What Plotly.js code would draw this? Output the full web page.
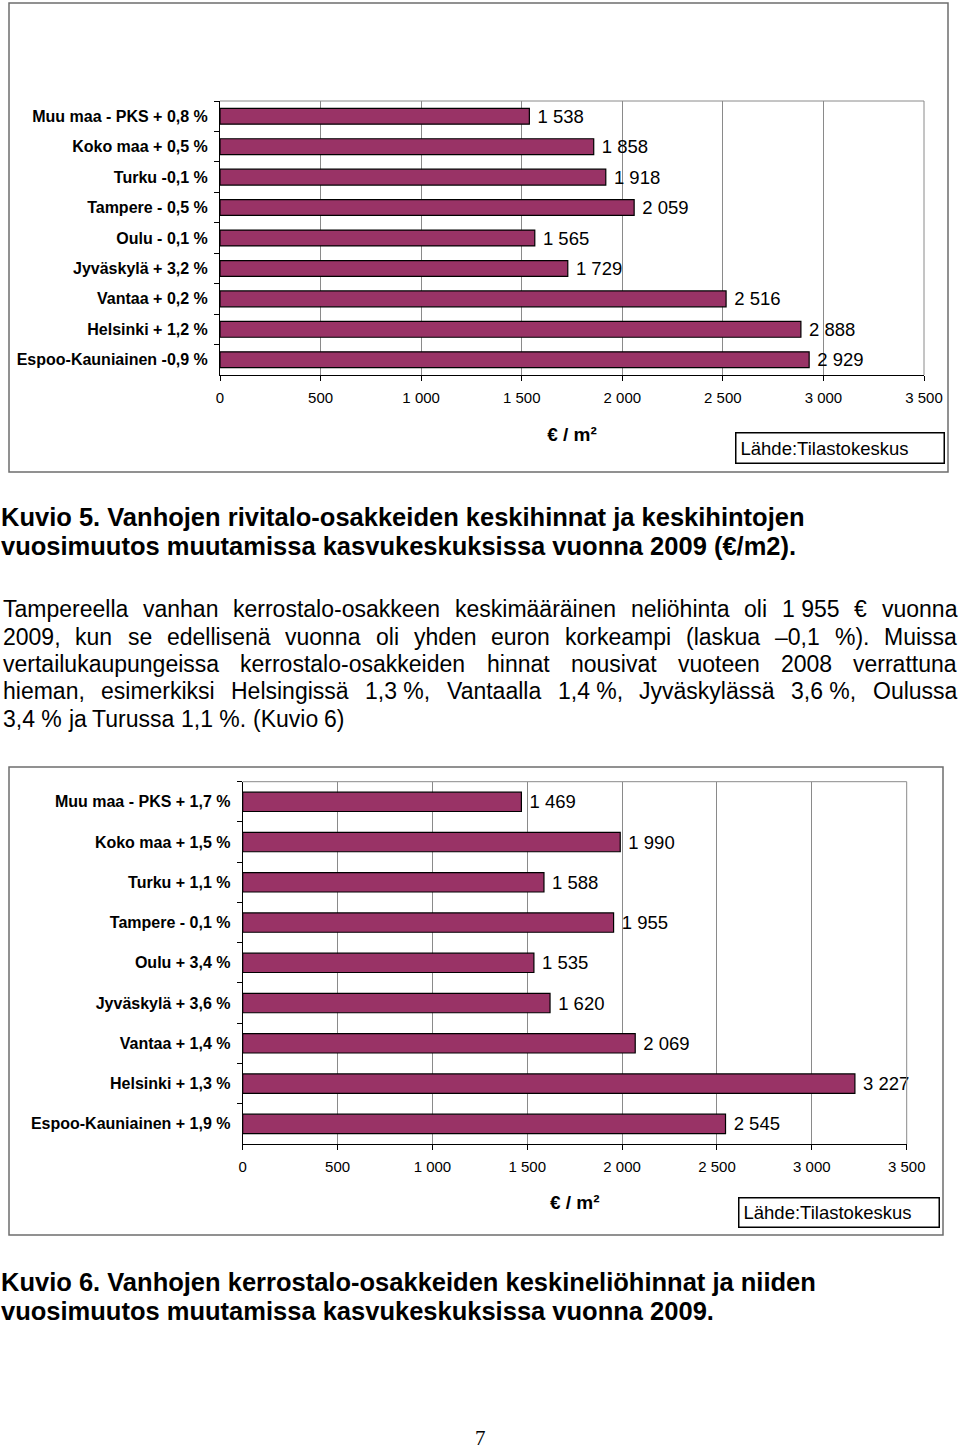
<!DOCTYPE html>
<html>
<head>
<meta charset="utf-8">
<script src="https://cdn.plot.ly/plotly-3.0.1.min.js"></script>
<style>
  html, body { margin: 0; padding: 0; background: #fff; }
  #page { width: 960px; height: 1451px; }
</style>
</head>
<body>
<div id="page"></div>
<script>
// ---------- DATA ----------
const categories1 = ['Muu maa - PKS + 0,8 %', 'Koko maa + 0,5 %', 'Turku -0,1 %', 'Tampere - 0,5 %', 'Oulu - 0,1 %',
  'Jyväskylä + 3,2 %', 'Vantaa + 0,2 %', 'Helsinki + 1,2 %', 'Espoo-Kauniainen -0,9 %'];
const values1 = [1538, 1858, 1918, 2059, 1565, 1729, 2516, 2888, 2929];

const categories2 = ['Muu maa - PKS + 1,7 %', 'Koko maa + 1,5 %', 'Turku + 1,1 %', 'Tampere - 0,1 %', 'Oulu + 3,4 %',
  'Jyväskylä + 3,6 %', 'Vantaa + 1,4 %', 'Helsinki + 1,3 %', 'Espoo-Kauniainen + 1,9 %'];
const values2 = [1469, 1990, 1588, 1955, 1535, 1620, 2069, 3227, 2545];

const xTickValues = [0, 500, 1000, 1500, 2000, 2500, 3000, 3500];
const xTickLabels = ['0', '500', '1 000', '1 500', '2 000', '2 500', '3 000', '3 500'];

const axisTitle = '€ / m²';
const sourceText = 'Lähde:Tilastokeskus';

const caption5 = ['Kuvio 5. Vanhojen rivitalo-osakkeiden keskihinnat ja keskihintojen',
  'vuosimuutos muutamissa kasvukeskuksissa vuonna 2009 (€/m2).'];
const caption6 = ['Kuvio 6. Vanhojen kerrostalo-osakkeiden keskineliöhinnat ja niiden',
  'vuosimuutos muutamissa kasvukeskuksissa vuonna 2009.'];
const bodyLines = [
  'Tampereella vanhan kerrostalo-osakkeen keskimääräinen neliöhinta oli 1\u00a0955 € vuonna',
  '2009, kun se edellisenä vuonna oli yhden euron korkeampi (laskua –0,1 %). Muissa',
  'vertailukaupungeissa kerrostalo-osakkeiden hinnat nousivat vuoteen 2008 verrattuna',
  'hieman, esimerkiksi Helsingissä 1,3\u00a0%, Vantaalla 1,4\u00a0%, Jyväskylässä 3,6\u00a0%, Oulussa',
  '3,4\u00a0% ja Turussa 1,1\u00a0%. (Kuvio 6)'
];
const pageNumber = '7';

// ---------- HELPERS ----------
const W = 960, H = 1451;
const px = x => x / W;
const py = y => 1 - y / H;
const fmt = v => String(v).replace(/\B(?=(\d{3})+(?!\d))/g, ' ');
const SANS = 'Liberation Sans, Arial, sans-serif';
const BAR = '#993366';
const GRID = '#8a8a8a';

function barTrace(cats, vals, xa, ya, w) {
  return {
    type: 'bar', orientation: 'h', x: vals, y: cats, xaxis: xa, yaxis: ya,
    width: w,
    marker: { color: BAR, line: { color: '#000', width: 1.2 } },
    text: vals.map(v => '\u00a0' + fmt(v)),
    textposition: 'outside', constraintext: 'none', cliponaxis: false,
    textfont: { family: SANS, size: 18.5, color: '#000' },
    hoverinfo: 'skip'
  };
}

function xAxis(d0, d1, anchor, standoff) {
  return {
    domain: [px(d0), px(d1)], range: [0, 3500], anchor: anchor,
    tickvals: xTickValues, ticktext: xTickLabels,
    showgrid: true, gridcolor: GRID, gridwidth: 1, zeroline: false,
    showline: true, linecolor: '#000', linewidth: 1,
    ticks: 'outside', ticklen: 5, tickcolor: '#000', tickwidth: 1,
    ticklabelstandoff: 4,
    tickfont: { family: SANS, size: 15, color: '#000' },
    title: { text: axisTitle, font: { family: SANS, size: 19, color: '#000', weight: 'bold' }, standoff: standoff },
    fixedrange: true
  };
}

function yAxis(top, bottom, anchor, cats) {
  return {
    domain: [py(bottom), py(top)], anchor: anchor, type: 'category',
    categoryorder: 'array', categoryarray: cats, autorange: 'reversed',
    showgrid: false, zeroline: false,
    showline: true, linecolor: '#000', linewidth: 1,
    ticks: 'outside', tickson: 'boundaries', ticklen: 5, tickcolor: '#000',
    ticklabelstandoff: 8,
    tickfont: { family: SANS, size: 16, color: '#000', weight: 'bold' },
    fixedrange: true
  };
}

const data = [
  barTrace(categories1, values1, 'x', 'y', 0.52),
  barTrace(categories2, values2, 'x2', 'y2', 0.48)
];

// chart geometry (pixels)
const c1 = { l: 220, r: 924, t: 101, b: 375 };
const c2 = { l: 242.7, r: 906.7, t: 781.7, b: 1144 };

const shapes = [
  // outer frames
  { type: 'rect', xref: 'paper', yref: 'paper', x0: px(9), x1: px(948), y0: py(472), y1: py(3),
    line: { color: '#6e6e6e', width: 1.5 } },
  { type: 'rect', xref: 'paper', yref: 'paper', x0: px(9), x1: px(943), y0: py(1235), y1: py(767),
    line: { color: '#6e6e6e', width: 1.5 } },
  // plot area top/right borders
  { type: 'line', xref: 'x domain', yref: 'y domain', x0: 0, x1: 1, y0: 1, y1: 1, line: { color: GRID, width: 1 } },
  { type: 'line', xref: 'x domain', yref: 'y domain', x0: 1, x1: 1, y0: 0, y1: 1, line: { color: GRID, width: 1 } },
  { type: 'line', xref: 'x2 domain', yref: 'y2 domain', x0: 0, x1: 1, y0: 1, y1: 1, line: { color: GRID, width: 1 } },
  { type: 'line', xref: 'x2 domain', yref: 'y2 domain', x0: 1, x1: 1, y0: 0, y1: 1, line: { color: GRID, width: 1 } }
];

const annotations = [];
function sourceBox(x, y, w, h) {
  annotations.push({
    xref: 'paper', yref: 'paper', x: px(x), y: py(y), xanchor: 'left', yanchor: 'top',
    text: sourceText, showarrow: false, align: 'left',
    width: w, height: h, borderpad: 4, bordercolor: '#000', borderwidth: 1.5, bgcolor: '#fff',
    font: { family: SANS, size: 18.5, color: '#000' }
  });
}
sourceBox(735, 432, 199, 21);
sourceBox(738, 1197, 191, 20);

function textLine(text, x, y, size, bold) {
  annotations.push({
    xref: 'paper', yref: 'paper', x: px(x), y: py(y), xanchor: 'left', yanchor: 'middle',
    text: text, showarrow: false, borderpad: 0, borderwidth: 0,
    font: { family: SANS, size: size, color: '#000', weight: bold ? 'bold' : 'normal' }
  });
}
textLine(caption5[0], 1, 517, 25.5, true);
textLine(caption5[1], 1, 546, 25.5, true);
textLine(caption6[0], 1, 1282, 25.5, true);
textLine(caption6[1], 1, 1311, 25.5, true);

// justified body paragraph: words laid out with measured widths
const bodySize = 23;
const ctx = document.createElement('canvas').getContext('2d');
ctx.font = bodySize + "px 'Liberation Sans', Arial, sans-serif";
const bodyY = [609, 637, 664, 691, 719];
const bodyLeft = 3, bodyRight = 957;
bodyLines.forEach((line, i) => {
  const words = line.split(' ');
  const widths = words.map(w => ctx.measureText(w).width);
  const total = widths.reduce((a, b) => a + b, 0);
  const justify = i < bodyLines.length - 1;
  const gap = justify ? (bodyRight - bodyLeft - total) / (words.length - 1) : ctx.measureText(' ').width;
  let x = bodyLeft;
  words.forEach((w, j) => {
    annotations.push({
      xref: 'paper', yref: 'paper', x: px(x), y: py(bodyY[i]), xanchor: 'left', yanchor: 'middle',
      text: w, showarrow: false, borderpad: 0, borderwidth: 0,
      font: { family: SANS, size: bodySize, color: '#000' }
    });
    x += widths[j] + gap;
  });
});

annotations.push({
  xref: 'paper', yref: 'paper', x: px(480), y: py(1450), xanchor: 'center', yanchor: 'bottom',
  text: pageNumber, showarrow: false, borderpad: 0, borderwidth: 0,
  font: { family: 'Liberation Serif, Times New Roman, serif', size: 21, color: '#000' }
});

const layout = {
  width: W, height: H,
  margin: { l: 0, r: 0, t: 0, b: 0, pad: 0 },
  paper_bgcolor: '#fff', plot_bgcolor: '#fff',
  showlegend: false, bargap: 0.48,
  separators: ', ',
  xaxis: xAxis(c1.l, c1.r, 'y', 22),
  yaxis: yAxis(c1.t, c1.b, 'x', categories1),
  xaxis2: xAxis(c2.l, c2.r, 'y2', 21),
  yaxis2: yAxis(c2.t, c2.b, 'x2', categories2),
  shapes: shapes,
  annotations: annotations
};

Plotly.newPlot('page', data, layout, { staticPlot: true, displayModeBar: false });
</script>
</body>
</html>
